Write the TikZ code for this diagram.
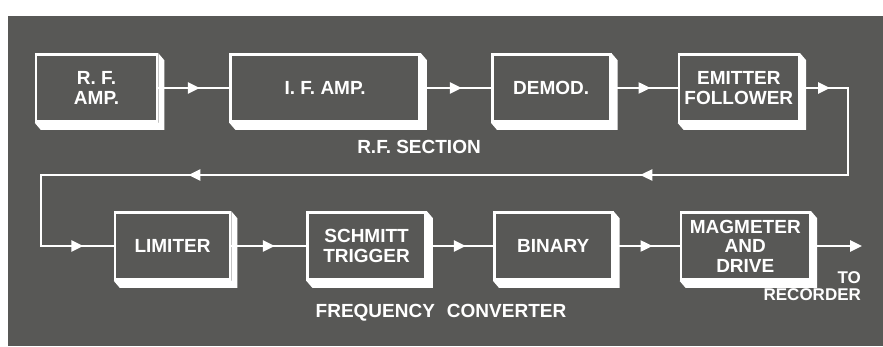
\documentclass[tikz,border=0pt]{standalone}
\usepackage{fontspec}
\setmainfont{Liberation Sans}
\usetikzlibrary{arrows.meta,positioning,decorations.markings,calc}
\definecolor{plate}{RGB}{88,88,86}

\begin{document}
\begin{tikzpicture}[x=1pt,y=1pt,
midtip/.tip={Triangle[length=12pt,width=11pt]},
block/.style={draw=white,line width=2.6pt,fill=plate,text=white,align=center,font=\fontsize{19}{19.5}\selectfont\bfseries,minimum width=#1,minimum height=67pt,inner sep=2pt},
block/.default=118pt,
caption/.style={text=white,font=\fontsize{19}{19.5}\selectfont\bfseries,inner sep=1pt},
wire/.style={draw=white,line width=2.4pt,line cap=rect},
flow/.style={wire,postaction={decorate},decoration={markings,mark=at position 0.5 with {\arrow[xshift=6pt]{midtip}}}}]
\useasboundingbox (0,0) rectangle (883,346);
\fill[plate] (8,0) rectangle (883,330);
% r.f. section
\node[block=121pt] (rfamp) at (96.5,258) {R. F.\\AMP.};
\node[block=189pt,right=71pt of rfamp] (ifamp) {I. F. AMP.};
\node[block,right=70pt of ifamp] (demod) {DEMOD.};
\node[block=120pt,right=66pt of demod] (emitter) {EMITTER\\FOLLOWER};
% frequency converter
\node[block=115pt] (limiter) at (172.5,100) {LIMITER};
\node[block,right=75pt of limiter] (schmitt) {SCHMITT\\TRIGGER};
\node[block,right=66pt of schmitt] (binary) {BINARY};
\node[block=129pt,right=66pt of binary] (magmeter) {MAGMETER\\AND\\DRIVE};
\foreach \b in {rfamp,ifamp,demod,emitter,limiter,schmitt,binary,magmeter}
  \fill[white] (\b.north east) -- ++(6,-7) -- ([shift={(6,-7)}]\b.south east)
    -- ([shift={(6,-7)}]\b.south west) -- (\b.south west) -- (\b.south east) -- cycle;
\node[caption] (rfsection) at (419,199) {R.F. SECTION};
\node[caption] (freqconv) at (441,33) {FREQUENCY\hspace{12pt}CONVERTER};
\coordinate (backR) at (848,171);
\coordinate (backL) at (41,171);
\coordinate[right=51pt of magmeter] (rec);
\node[caption,font=\fontsize{17}{17.5}\selectfont\bfseries,align=right,below left=24pt and 0pt of rec] (torec) {TO\\RECORDER};
\draw[flow](rfamp)--(ifamp);
\draw[flow](ifamp)--(demod);
\draw[flow](demod)--(emitter);
\draw[flow](emitter)--(emitter -| backR);
\draw[wire](emitter -| backR)--(backR);
\draw[wire,postaction={decorate},decoration={markings,
  mark=at position 0.25 with {\arrow[xshift=6pt]{midtip}},
  mark=at position 0.81 with {\arrow[xshift=6pt]{midtip}}}](backR)--(backL);
\draw[wire](backL)--(backL |- limiter);
\draw[flow](backL |- limiter)--(limiter);
\draw[flow](limiter)--(schmitt);
\draw[flow](schmitt)--(binary);
\draw[flow](binary)--(magmeter);
\draw[wire,-{midtip}](magmeter)--(rec);
\end{tikzpicture}
\end{document}
